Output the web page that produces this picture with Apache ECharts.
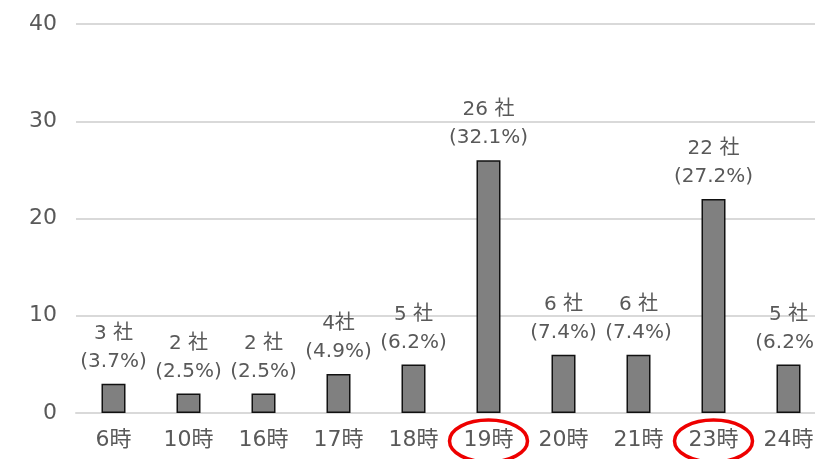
<!DOCTYPE html>
<html>
<head>
<meta charset="utf-8">
<script src="https://cdn.jsdelivr.net/npm/echarts@6/dist/echarts.min.js"></script>
<style>
html,body{margin:0;padding:0;background:#fff;overflow:hidden;}
#chart{width:826px;height:459px;}
</style>
</head>
<body>
<div id="chart"></div>
<script>
// Hours of day and the number of companies for each
const hours = ['6時', '10時', '16時', '17時', '18時', '19時', '20時', '21時', '23時', '24時'];
const companies = [3, 2, 2, 4, 5, 26, 6, 6, 22, 5];
const shares = ['3.7%', '2.5%', '2.5%', '4.9%', '6.2%', '32.1%', '7.4%', '7.4%', '27.2%', '6.2%'];
const countText = ['3 社', '2 社', '2 社', '4社', '5 社', '26 社', '6 社', '6 社', '22 社', '5 社'];
const circled = ['19時', '23時'];
const yTicks = { min: 0, max: 40, interval: 10 };

const FONT = '"DejaVu Sans", "Noto Sans CJK JP", sans-serif';
const TEXT = '#595959';

// The plot runs slightly past the right edge of the page
const chart = echarts.init(document.getElementById('chart'));

chart.setOption({
  animation: false,
  grid: { left: 76, top: 24, right: 0, bottom: 46, containLabel: false },
  xAxis: {
    type: 'category',
    data: hours,
    axisLine: { show: true, lineStyle: { color: '#d9d9d9', width: 2 } },
    axisTick: { show: false },
    axisLabel: { color: TEXT, fontSize: 22, fontFamily: FONT, margin: 16 }
  },
  yAxis: {
    type: 'value',
    min: yTicks.min,
    max: yTicks.max,
    interval: yTicks.interval,
    axisLine: { show: false },
    axisTick: { show: false },
    splitLine: { lineStyle: { color: '#d9d9d9', width: 2 } },
    axisLabel: { color: TEXT, fontSize: 22, fontFamily: FONT, margin: 19 }
  },
  series: [{
    type: 'bar',
    data: companies,
    barWidth: 24,
    itemStyle: { color: '#808080', borderColor: '#111', borderWidth: 1.5 },
    label: {
      show: true,
      position: 'top',
      distance: 8,
      color: TEXT,
      fontSize: 20,
      fontFamily: FONT,
      lineHeight: 28,
      formatter: p => countText[p.dataIndex] + '\n(' + shares[p.dataIndex] + ')'
    }
  }]
});

// Red rings around the highlighted hour labels
function drawRings() {
  const y0 = chart.convertToPixel({ yAxisIndex: 0 }, 0);
  chart.setOption({
    graphic: circled.map(h => {
      const cx = chart.convertToPixel({ xAxisIndex: 0 }, h);
      return {
        type: 'ellipse',
        shape: { cx: cx, cy: y0 + 28, rx: 39, ry: 21 },
        style: { fill: 'none', stroke: '#ee0000', lineWidth: 3.5 },
        z: 100
      };
    })
  });
}
drawRings();
</script>
</body>
</html>
